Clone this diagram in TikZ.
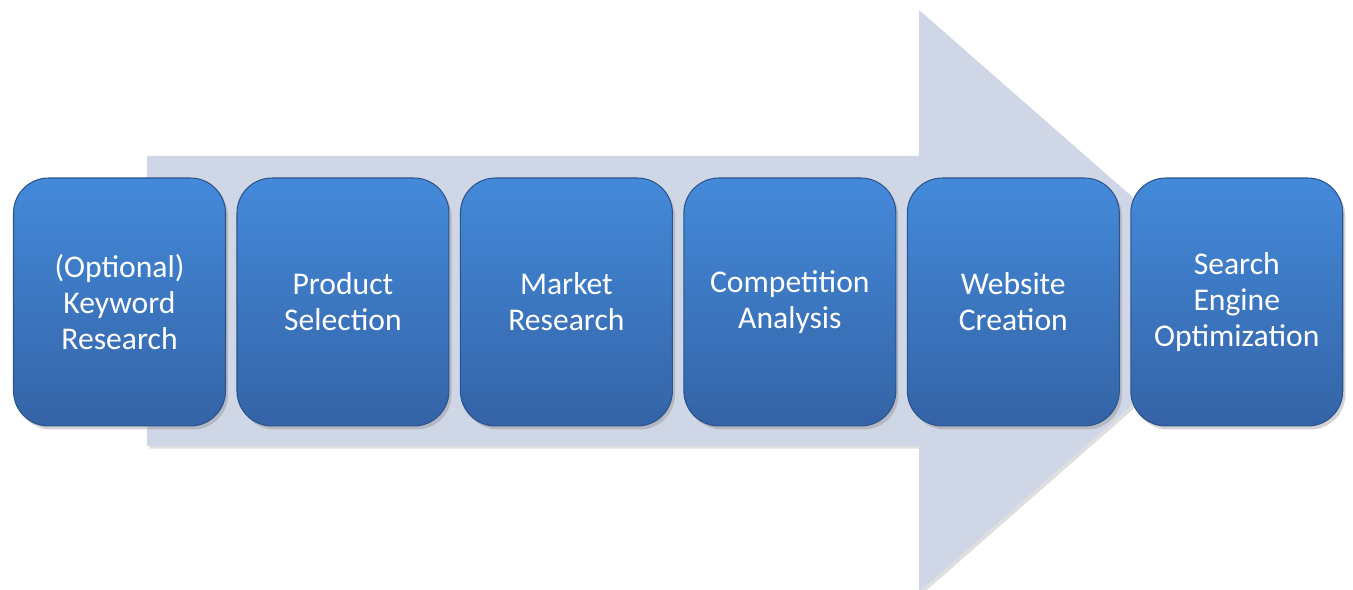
\documentclass[tikz,border=0pt]{standalone}
\usepackage{fontspec}
\setmainfont{Carlito}
\usetikzlibrary{shadows}
\definecolor{arrowgray}{RGB}{207,215,230}
\definecolor{boxtop}{RGB}{68,138,218}
\definecolor{boxbottom}{RGB}{52,99,166}
\definecolor{boxedge}{RGB}{44,84,138}

\begin{document}
\begin{tikzpicture}[x=0.02cm,y=-0.02cm,
    stage node/.style={draw=boxedge,line width=0.6pt,rounded corners=0.7cm,
      top color=boxtop,bottom color=boxbottom,
      minimum width=4.24cm,minimum height=4.96cm,
      align=center,text=white,font=\fontsize{18}{20.5}\selectfont,
      drop shadow={opacity=0.35,shadow xshift=1.5pt,shadow yshift=-2pt}},
    node distance=4.47cm]
    \useasboundingbox (0,0) rectangle (1353,590);

    % background arrow
    \fill[arrowgray,drop shadow={opacity=0.25,shadow xshift=1.5pt,shadow yshift=-1.5pt}]
    (147,156) -- (919,156) -- (919,10) -- (1251,301) -- (919,592) -- (919,446) -- (147,446) -- cycle;

    \node[stage node] (1) at (119.5,302) {(Optional)\\Keyword\\Research};
    \node[stage node] (2) [right of=1] {Product\\Selection};
    \node[stage node] (3) [right of=2] {Market\\Research};
    \node[stage node] (4) [right of=3] {Competition\\Analysis};
    \node[stage node] (5) [right of=4] {Website\\Creation};
    \node[stage node] (6) [right of=5] {Search\\Engine\\Optimization};
  \end{tikzpicture}
\end{document}
